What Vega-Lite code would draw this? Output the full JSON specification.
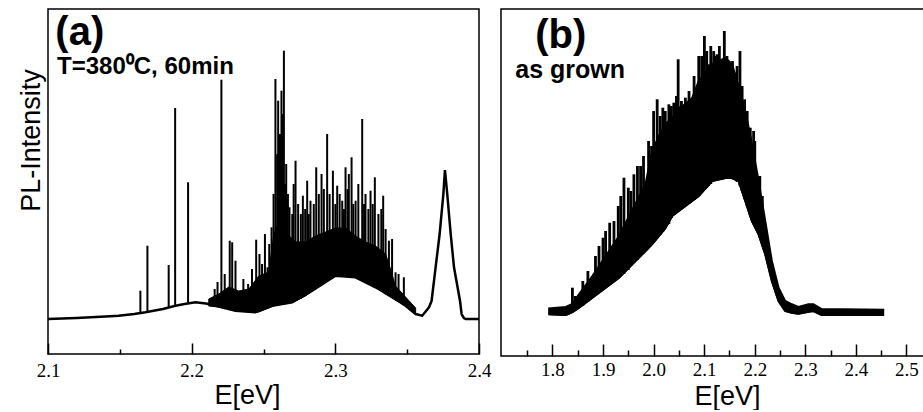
{
  "$schema": "https://vega.github.io/schema/vega-lite/v6.json",
  "padding": {"left": 16, "top": 8, "right": 0, "bottom": 0},
  "background": "white",
  "spacing": 22,
  "bounds": "flush",
  "config": {
    "view": {"stroke": "black", "strokeWidth": 1.5},
    "axis": {
      "grid": false,
      "domain": false,
      "labelFont": "Liberation Serif",
      "labelFontSize": 19,
      "labelColor": "black",
      "titleFont": "Liberation Sans",
      "titleFontSize": 27,
      "titleFontWeight": "normal",
      "titleColor": "black",
      "tickColor": "black",
      "tickWidth": 1.5
    }
  },
  "datasets": {
    "lineA": [
      {"E": 2.1, "I": 35}, {"E": 2.12, "I": 36}, {"E": 2.14, "I": 37.5}, {"E": 2.1492, "I": 38.3},
      {"E": 2.16, "I": 40}, {"E": 2.1678, "I": 41.7}, {"E": 2.18, "I": 45}, {"E": 2.1887, "I": 48.3},
      {"E": 2.195, "I": 50}, {"E": 2.2026, "I": 51.7}, {"E": 2.21, "I": 50.5}, {"E": 2.2166, "I": 48.3},
      {"E": 2.2305, "I": 43.3}, {"E": 2.2444, "I": 41.7}, {"E": 2.256, "I": 48.3}, {"E": 2.27, "I": 51.7},
      {"E": 2.2839, "I": 63.3}, {"E": 2.3001, "I": 78.3}, {"E": 2.3141, "I": 76.7}, {"E": 2.328, "I": 66.7},
      {"E": 2.3396, "I": 56.7}, {"E": 2.3489, "I": 48.3}, {"E": 2.3559, "I": 40}, {"E": 2.3605, "I": 38.3},
      {"E": 2.3652, "I": 46.7}, {"E": 2.367, "I": 53}, {"E": 2.3698, "I": 86.7}, {"E": 2.3726, "I": 120},
      {"E": 2.3752, "I": 160}, {"E": 2.3763, "I": 184}, {"E": 2.3779, "I": 160}, {"E": 2.3803, "I": 120},
      {"E": 2.3826, "I": 86.7}, {"E": 2.3868, "I": 53}, {"E": 2.3879, "I": 40}, {"E": 2.3895, "I": 36},
      {"E": 2.3907, "I": 35}, {"E": 2.4, "I": 35}
    ],
    "bandA": [
      {"E": 2.2119, "lo": 48, "hi": 55}, {"E": 2.2189, "lo": 47, "hi": 60}, {"E": 2.2258, "lo": 45, "hi": 67},
      {"E": 2.2328, "lo": 43, "hi": 63}, {"E": 2.2398, "lo": 42, "hi": 65}, {"E": 2.2467, "lo": 42, "hi": 78},
      {"E": 2.2537, "lo": 46, "hi": 82}, {"E": 2.2572, "lo": 48, "hi": 120}, {"E": 2.2618, "lo": 50, "hi": 135},
      {"E": 2.2665, "lo": 51, "hi": 120}, {"E": 2.2723, "lo": 53, "hi": 112}, {"E": 2.2792, "lo": 58, "hi": 112},
      {"E": 2.2862, "lo": 65, "hi": 118}, {"E": 2.2932, "lo": 73, "hi": 122}, {"E": 2.3001, "lo": 78, "hi": 126},
      {"E": 2.3071, "lo": 78, "hi": 126}, {"E": 2.3141, "lo": 77, "hi": 118}, {"E": 2.321, "lo": 72, "hi": 112},
      {"E": 2.328, "lo": 67, "hi": 108}, {"E": 2.335, "lo": 60, "hi": 100}, {"E": 2.3384, "lo": 57, "hi": 85},
      {"E": 2.3419, "lo": 54, "hi": 68}, {"E": 2.3489, "lo": 48, "hi": 57}, {"E": 2.3559, "lo": 40, "hi": 46}
    ],
    "spikesA": [
      {"E": 2.1643, "base": 41, "top": 63.3}, {"E": 2.1692, "base": 42, "top": 108.3},
      {"E": 2.184, "base": 46, "top": 89}, {"E": 2.1885, "base": 48, "top": 246},
      {"E": 2.1975, "base": 50, "top": 171.7}, {"E": 2.216, "base": 48, "top": 65},
      {"E": 2.218, "base": 48, "top": 72}, {"E": 2.2207, "base": 47, "top": 274.3},
      {"E": 2.223, "base": 46, "top": 80}, {"E": 2.2265, "base": 45, "top": 113.3},
      {"E": 2.2282, "base": 44, "top": 111.7}, {"E": 2.2305, "base": 43, "top": 93.3},
      {"E": 2.236, "base": 42, "top": 75}, {"E": 2.2393, "base": 42, "top": 70},
      {"E": 2.242, "base": 42, "top": 85}, {"E": 2.2449, "base": 42, "top": 114.3},
      {"E": 2.2472, "base": 43, "top": 100}, {"E": 2.249, "base": 44, "top": 90},
      {"E": 2.251, "base": 45, "top": 120}, {"E": 2.2528, "base": 46, "top": 86.7},
      {"E": 2.254, "base": 47, "top": 110}, {"E": 2.2556, "base": 48, "top": 126.7},
      {"E": 2.257, "base": 48, "top": 160}, {"E": 2.2583, "base": 49, "top": 275},
      {"E": 2.2595, "base": 49, "top": 200}, {"E": 2.2602, "base": 49, "top": 253.3},
      {"E": 2.2615, "base": 50, "top": 220}, {"E": 2.2625, "base": 50, "top": 263.3},
      {"E": 2.2635, "base": 50, "top": 240}, {"E": 2.2642, "base": 50, "top": 303.3},
      {"E": 2.265, "base": 51, "top": 170}, {"E": 2.2658, "base": 51, "top": 190},
      {"E": 2.267, "base": 51, "top": 160}, {"E": 2.2681, "base": 51, "top": 146.7},
      {"E": 2.27, "base": 52, "top": 140}, {"E": 2.271, "base": 52, "top": 170},
      {"E": 2.2723, "base": 53, "top": 193.3}, {"E": 2.2741, "base": 54, "top": 150},
      {"E": 2.276, "base": 55, "top": 140}, {"E": 2.2774, "base": 57, "top": 158.3},
      {"E": 2.279, "base": 58, "top": 145}, {"E": 2.2804, "base": 60, "top": 173.3},
      {"E": 2.2815, "base": 61, "top": 140}, {"E": 2.2827, "base": 62, "top": 153.3},
      {"E": 2.285, "base": 64, "top": 150}, {"E": 2.2867, "base": 66, "top": 186.7},
      {"E": 2.2885, "base": 68, "top": 160}, {"E": 2.2904, "base": 70, "top": 180},
      {"E": 2.292, "base": 71, "top": 165}, {"E": 2.2943, "base": 73, "top": 220},
      {"E": 2.296, "base": 75, "top": 160}, {"E": 2.2983, "base": 77, "top": 183.3},
      {"E": 2.3, "base": 78, "top": 150}, {"E": 2.3013, "base": 78, "top": 168.3},
      {"E": 2.303, "base": 78, "top": 160}, {"E": 2.3048, "base": 78, "top": 153.3},
      {"E": 2.306, "base": 78, "top": 145}, {"E": 2.3071, "base": 78, "top": 186.7},
      {"E": 2.3085, "base": 78, "top": 165}, {"E": 2.3094, "base": 78, "top": 180},
      {"E": 2.3113, "base": 77, "top": 196.7}, {"E": 2.3125, "base": 77, "top": 150},
      {"E": 2.3141, "base": 77, "top": 153.3}, {"E": 2.316, "base": 76, "top": 170},
      {"E": 2.3187, "base": 74, "top": 235}, {"E": 2.32, "base": 73, "top": 150},
      {"E": 2.321, "base": 72, "top": 160}, {"E": 2.323, "base": 71, "top": 145},
      {"E": 2.3245, "base": 70, "top": 163.3}, {"E": 2.326, "base": 69, "top": 150},
      {"E": 2.3275, "base": 67, "top": 176.7}, {"E": 2.33, "base": 65, "top": 140},
      {"E": 2.332, "base": 63, "top": 145}, {"E": 2.3333, "base": 62, "top": 158.3},
      {"E": 2.335, "base": 60, "top": 125}, {"E": 2.3373, "base": 58, "top": 113.3},
      {"E": 2.3395, "base": 56, "top": 115}, {"E": 2.3419, "base": 54, "top": 81.7},
      {"E": 2.344, "base": 52, "top": 80}, {"E": 2.3477, "base": 49, "top": 76.7}
    ],
    "bandB": [
      {"E": 1.7934, "lo": 41.7, "hi": 47.7}, {"E": 1.8263, "lo": 41, "hi": 49}, {"E": 1.8394, "lo": 44, "hi": 52},
      {"E": 1.8526, "lo": 48.3, "hi": 62}, {"E": 1.8789, "lo": 58.3, "hi": 80}, {"E": 1.9052, "lo": 68.3, "hi": 100},
      {"E": 1.9315, "lo": 78.3, "hi": 120}, {"E": 1.9577, "lo": 91.7, "hi": 146}, {"E": 1.984, "lo": 105, "hi": 172},
      {"E": 1.9972, "lo": 112, "hi": 205}, {"E": 2.0103, "lo": 120, "hi": 220}, {"E": 2.0235, "lo": 128, "hi": 232},
      {"E": 2.0366, "lo": 140, "hi": 238}, {"E": 2.0498, "lo": 145, "hi": 248}, {"E": 2.0629, "lo": 150, "hi": 252},
      {"E": 2.0761, "lo": 155, "hi": 258}, {"E": 2.0892, "lo": 160, "hi": 275}, {"E": 2.1155, "lo": 175, "hi": 292},
      {"E": 2.1418, "lo": 178, "hi": 298}, {"E": 2.1549, "lo": 178, "hi": 292}, {"E": 2.1681, "lo": 175, "hi": 270},
      {"E": 2.1812, "lo": 155, "hi": 245}, {"E": 2.1944, "lo": 135, "hi": 212}, {"E": 2.2075, "lo": 121.7, "hi": 175},
      {"E": 2.2207, "lo": 101.7, "hi": 135}, {"E": 2.2338, "lo": 75, "hi": 95}, {"E": 2.247, "lo": 55, "hi": 68.3},
      {"E": 2.2601, "lo": 45, "hi": 55}, {"E": 2.2733, "lo": 43.3, "hi": 51.7}, {"E": 2.2864, "lo": 42.3, "hi": 49},
      {"E": 2.3061, "lo": 44.3, "hi": 51.7}, {"E": 2.316, "lo": 45, "hi": 51.7}, {"E": 2.3324, "lo": 41, "hi": 47},
      {"E": 2.454, "lo": 41, "hi": 46.3}
    ],
    "spikesB": [
      {"E": 1.8394, "base": 45, "top": 68.3}, {"E": 1.845, "base": 46, "top": 60},
      {"E": 1.86, "base": 50, "top": 75}, {"E": 1.87, "base": 54, "top": 85},
      {"E": 1.885, "base": 60, "top": 100}, {"E": 1.892, "base": 64, "top": 110},
      {"E": 1.8999, "base": 70, "top": 118.3}, {"E": 1.905, "base": 68, "top": 125},
      {"E": 1.9131, "base": 74, "top": 133.3}, {"E": 1.9216, "base": 76, "top": 135},
      {"E": 1.93, "base": 78, "top": 150}, {"E": 1.935, "base": 80, "top": 160},
      {"E": 1.9413, "base": 82, "top": 178.3}, {"E": 1.9499, "base": 86, "top": 168.3},
      {"E": 1.955, "base": 90, "top": 165}, {"E": 1.961, "base": 93, "top": 181.7},
      {"E": 1.968, "base": 96, "top": 190}, {"E": 1.9742, "base": 100, "top": 190},
      {"E": 1.98, "base": 103, "top": 200}, {"E": 1.99, "base": 108, "top": 215},
      {"E": 1.9959, "base": 111, "top": 210}, {"E": 2.0, "base": 113, "top": 245},
      {"E": 2.007, "base": 118, "top": 256.7}, {"E": 2.013, "base": 121, "top": 240},
      {"E": 2.0182, "base": 124, "top": 248.3}, {"E": 2.023, "base": 128, "top": 245},
      {"E": 2.0301, "base": 132, "top": 251.7}, {"E": 2.035, "base": 138, "top": 250},
      {"E": 2.0399, "base": 141, "top": 253.3}, {"E": 2.045, "base": 143, "top": 260},
      {"E": 2.0485, "base": 144, "top": 296.7}, {"E": 2.055, "base": 147, "top": 255},
      {"E": 2.0629, "base": 150, "top": 258.3}, {"E": 2.07, "base": 152, "top": 265},
      {"E": 2.0747, "base": 154, "top": 255}, {"E": 2.08, "base": 156, "top": 280},
      {"E": 2.0839, "base": 158, "top": 265}, {"E": 2.0892, "base": 160, "top": 300},
      {"E": 2.095, "base": 163, "top": 300}, {"E": 2.1004, "base": 166, "top": 320},
      {"E": 2.105, "base": 168, "top": 305}, {"E": 2.1089, "base": 170, "top": 291.7},
      {"E": 2.113, "base": 172, "top": 310}, {"E": 2.1188, "base": 175, "top": 305},
      {"E": 2.122, "base": 175, "top": 300}, {"E": 2.1254, "base": 176, "top": 301.7},
      {"E": 2.13, "base": 177, "top": 310}, {"E": 2.1339, "base": 177, "top": 295},
      {"E": 2.1398, "base": 178, "top": 325}, {"E": 2.145, "base": 178, "top": 300},
      {"E": 2.1497, "base": 178, "top": 288.3}, {"E": 2.156, "base": 177, "top": 295},
      {"E": 2.1615, "base": 176, "top": 283.3}, {"E": 2.165, "base": 174, "top": 290},
      {"E": 2.1707, "base": 170, "top": 305}, {"E": 2.175, "base": 165, "top": 270},
      {"E": 2.1799, "base": 157, "top": 256.7}, {"E": 2.185, "base": 150, "top": 245},
      {"E": 2.1911, "base": 140, "top": 228.3}, {"E": 2.1977, "base": 133, "top": 225},
      {"E": 2.2, "base": 130, "top": 215}, {"E": 2.21, "base": 118, "top": 180},
      {"E": 2.215, "base": 110, "top": 160}
    ]
  },
  "hconcat": [
    {
      "width": 431,
      "height": 345,
      "resolve": {"axis": {"x": "independent"}},
      "layer": [
        {
          "data": {"name": "bandA"},
          "mark": {"type": "area", "color": "black", "stroke": "black", "strokeWidth": 1},
          "encoding": {
            "x": {"field": "E", "type": "quantitative", "scale": {"domain": [2.1, 2.4], "nice": false, "zero": false},
              "axis": {"orient": "bottom", "values": [2.1, 2.2, 2.3, 2.4], "format": ".1f", "ticks": false, "tickSize": 0,
                "labelFont": "Liberation Serif", "labelFontSize": 19,
                "labelPadding": 7, "labelFlush": false, "labelOverlap": false,
                "title": "E[eV]", "titleX": 199, "titleY": 49, "titleBaseline": "alphabetic", "titleAlign": "center"}},
            "y": {"field": "lo", "type": "quantitative", "scale": {"domain": [0, 345], "nice": false},
              "axis": {"labels": false, "ticks": false, "domain": false, "title": "PL-Intensity",
                "titleX": -9, "titleY": 131, "titleAngle": -90, "titleBaseline": "alphabetic", "titleAlign": "center"}},
            "y2": {"field": "hi"}
          }
        },
        {
          "data": {"name": "spikesA"},
          "mark": {"type": "rule", "color": "black", "strokeWidth": 2},
          "encoding": {
            "x": {"field": "E", "type": "quantitative",
              "axis": {"orient": "bottom", "values": [2.1, 2.2, 2.3, 2.4], "labels": false, "tickSize": -11, "title": null}},
            "y": {"field": "base", "type": "quantitative",
              "axis": {"labels": false, "ticks": false, "domain": false, "title": "PL-Intensity",
                "titleX": -9, "titleY": 131, "titleAngle": -90, "titleBaseline": "alphabetic", "titleAlign": "center"}},
            "y2": {"field": "top"}
          }
        },
        {
          "data": {"name": "lineA"},
          "mark": {"type": "line", "color": "black", "strokeWidth": 2.5},
          "encoding": {
            "x": {"field": "E", "type": "quantitative",
              "axis": {"orient": "bottom", "values": [2.15, 2.25, 2.35], "labels": false, "tickSize": -5, "title": null}},
            "y": {"field": "I", "type": "quantitative",
              "axis": {"labels": false, "ticks": false, "domain": false, "title": "PL-Intensity",
                "titleX": -9, "titleY": 131, "titleAngle": -90, "titleBaseline": "alphabetic", "titleAlign": "center"}}
          }
        },
        {
          "data": {"values": [{"E": 2.1051, "I": 309, "label": "(a)"}]},
          "mark": {"type": "text", "align": "left", "baseline": "alphabetic", "font": "Liberation Sans", "fontWeight": "bold", "fontSize": 40, "color": "black"},
          "encoding": {
            "x": {"field": "E", "type": "quantitative", "axis": null},
            "y": {"field": "I", "type": "quantitative",
              "axis": {"labels": false, "ticks": false, "domain": false, "title": "PL-Intensity",
                "titleX": -9, "titleY": 131, "titleAngle": -90, "titleBaseline": "alphabetic", "titleAlign": "center"}},
            "text": {"field": "label"}
          }
        },
        {
          "data": {"values": [{"E": 2.1063, "I": 280, "label": "T=380⁰C, 60min"}]},
          "mark": {"type": "text", "align": "left", "baseline": "alphabetic", "font": "Liberation Sans", "fontWeight": "bold", "fontSize": 24, "color": "black"},
          "encoding": {
            "x": {"field": "E", "type": "quantitative", "axis": null},
            "y": {"field": "I", "type": "quantitative",
              "axis": {"labels": false, "ticks": false, "domain": false, "title": "PL-Intensity",
                "titleX": -9, "titleY": 131, "titleAngle": -90, "titleBaseline": "alphabetic", "titleAlign": "center"}},
            "text": {"field": "label"}
          }
        }
      ]
    },
    {
      "width": 424,
      "height": 347,
      "resolve": {"axis": {"x": "independent"}},
      "layer": [
        {
          "data": {"name": "bandB"},
          "mark": {"type": "area", "color": "black", "stroke": "black", "strokeWidth": 2},
          "encoding": {
            "x": {"field": "E", "type": "quantitative", "scale": {"domain": [1.6982, 2.5366], "nice": false, "zero": false},
              "axis": {"orient": "bottom", "values": [1.8, 1.9, 2.0, 2.1, 2.2, 2.3, 2.4, 2.5], "format": ".1f", "ticks": false, "tickSize": 0,
                "labelFont": "Liberation Serif", "labelFontSize": 19,
                "labelPadding": 4, "labelFlush": false, "labelOverlap": false,
                "title": "E[eV]", "titleX": 226, "titleY": 48, "titleBaseline": "alphabetic", "titleAlign": "center"}},
            "y": {"field": "lo", "type": "quantitative", "scale": {"domain": [0, 347], "nice": false}, "axis": null},
            "y2": {"field": "hi"}
          }
        },
        {
          "data": {"name": "spikesB"},
          "mark": {"type": "rule", "color": "black", "strokeWidth": 2.8},
          "encoding": {
            "x": {"field": "E", "type": "quantitative",
              "axis": {"orient": "bottom", "values": [1.8, 1.9, 2.0, 2.1, 2.2, 2.3, 2.4, 2.5], "labels": false, "tickSize": -12, "title": null}},
            "y": {"field": "base", "type": "quantitative", "axis": null},
            "y2": {"field": "top"}
          }
        },
        {
          "data": {"name": "bandB"},
          "mark": {"type": "line", "color": "black", "strokeWidth": 2},
          "encoding": {
            "x": {"field": "E", "type": "quantitative",
              "axis": {"orient": "bottom", "values": [1.75, 1.85, 1.95, 2.05, 2.15, 2.25, 2.35, 2.45], "labels": false, "tickSize": -6, "title": null}},
            "y": {"field": "lo", "type": "quantitative", "axis": null}
          }
        },
        {
          "data": {"values": [{"E": 1.766, "I": 308.3, "label": "(b)"}]},
          "mark": {"type": "text", "align": "left", "baseline": "alphabetic", "font": "Liberation Sans", "fontWeight": "bold", "fontSize": 40, "color": "black"},
          "encoding": {
            "x": {"field": "E", "type": "quantitative", "axis": null},
            "y": {"field": "I", "type": "quantitative", "axis": null},
            "text": {"field": "label"}
          }
        },
        {
          "data": {"values": [{"E": 1.7264, "I": 278.3, "label": "as grown"}]},
          "mark": {"type": "text", "align": "left", "baseline": "alphabetic", "font": "Liberation Sans", "fontWeight": "bold", "fontSize": 25, "color": "black"},
          "encoding": {
            "x": {"field": "E", "type": "quantitative", "axis": null},
            "y": {"field": "I", "type": "quantitative", "axis": null},
            "text": {"field": "label"}
          }
        }
      ]
    }
  ]
}
